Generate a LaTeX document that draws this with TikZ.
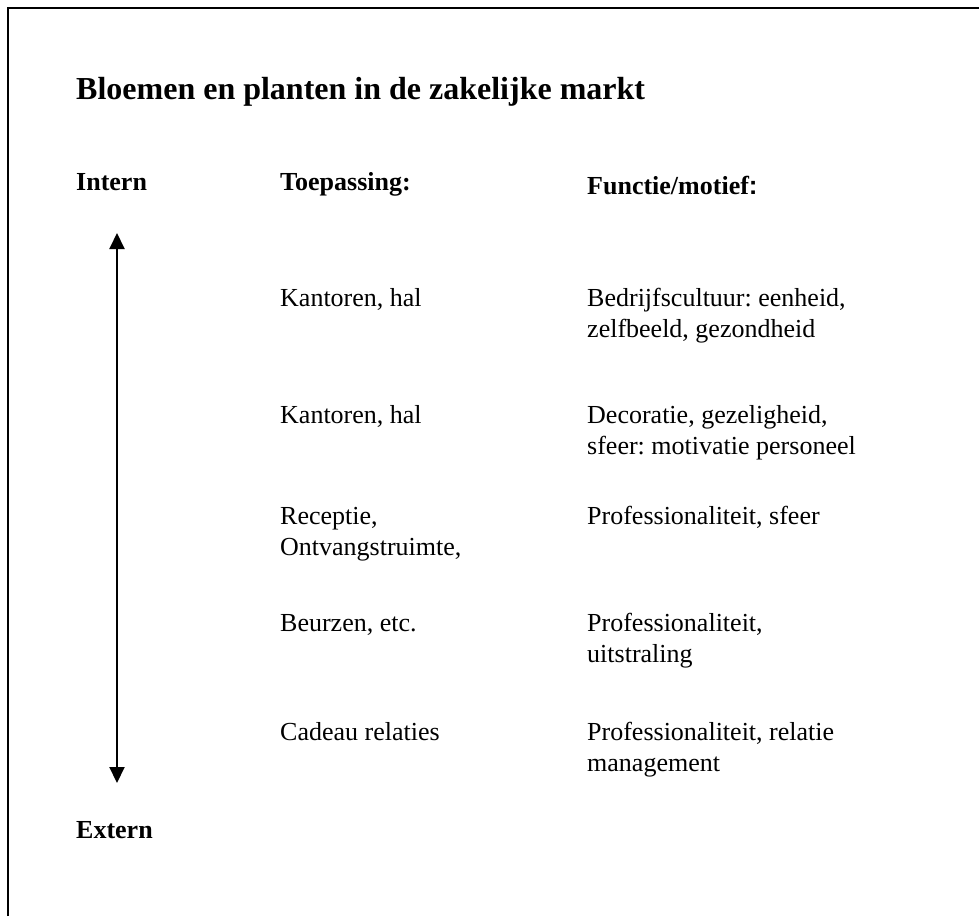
\documentclass[tikz,border=0pt]{standalone}
\usepackage{fontspec}
\setmainfont{Liberation Serif}
\setsansfont{Liberation Sans}
\usetikzlibrary{arrows.meta}
\frenchspacing
\newcommand{\regels}[1]{\begin{tabular}[t]{@{}l@{}}#1\end{tabular}}

\begin{document}
\begin{tikzpicture}[x=1pt, y=-1pt,
    kop/.style={font=\fontsize{32}{38}\selectfont\bfseries, anchor=base west, inner sep=0pt},
    kolomkop/.style={font=\fontsize{26}{31}\selectfont\bfseries, anchor=base west, inner sep=0pt},
    cel/.style={font=\fontsize{26}{31.5}\selectfont, anchor=base west, inner sep=0pt}]
    \useasboundingbox (0,0) rectangle (979,916);
    % kader
    \draw[line width=2pt] (8,916) -- (8,8) -- (979,8);

    % titel
    \node[kop] (titel) at (76,99) {Bloemen en planten in de zakelijke markt};

    % kolomkoppen
    \node[kolomkop] (intern) at (76,190) {Intern};
    \node[kolomkop] (toepassing) at (280,190) {Toepassing:};
    \node[kolomkop] (functie) at (587,194) {Functie/motief{\sffamily:}};
    \node[kolomkop] (extern) at (76,838) {Extern};

    % toepassingen
    \node[cel] (toep1) at (280,306) {Kantoren, hal};
    \node[cel] (toep2) at (280,423) {Kantoren, hal};
    \node[cel] (toep3) at (280,524) {\regels{Receptie,\\Ontvangstruimte,}};
    \node[cel] (toep4) at (280,631) {Beurzen, etc.};
    \node[cel] (toep5) at (280,740) {Cadeau relaties};

    % functies
    \node[cel] (func1) at (587,306) {\regels{Bedrijfscultuur: eenheid,\\zelfbeeld, gezondheid}};
    \node[cel] (func2) at (587,423) {\regels{Decoratie, gezeligheid,\\sfeer: motivatie personeel}};
    \node[cel] (func3) at (587,524) {Professionaliteit, sfeer};
    \node[cel] (func4) at (587,631) {\regels{Professionaliteit,\\uitstraling}};
    \node[cel] (func5) at (587,740) {\regels{Professionaliteit, relatie\\management}};

    % pijl intern - extern
    \coordinate (pijlboven) at (117,233);
    \coordinate (pijlonder) at (117,783);
    \draw[{Triangle[length=16pt,width=15pt]}-{Triangle[length=16pt,width=15pt]}, line width=2pt] (pijlboven) -- (pijlonder);
\end{tikzpicture}
\end{document}
